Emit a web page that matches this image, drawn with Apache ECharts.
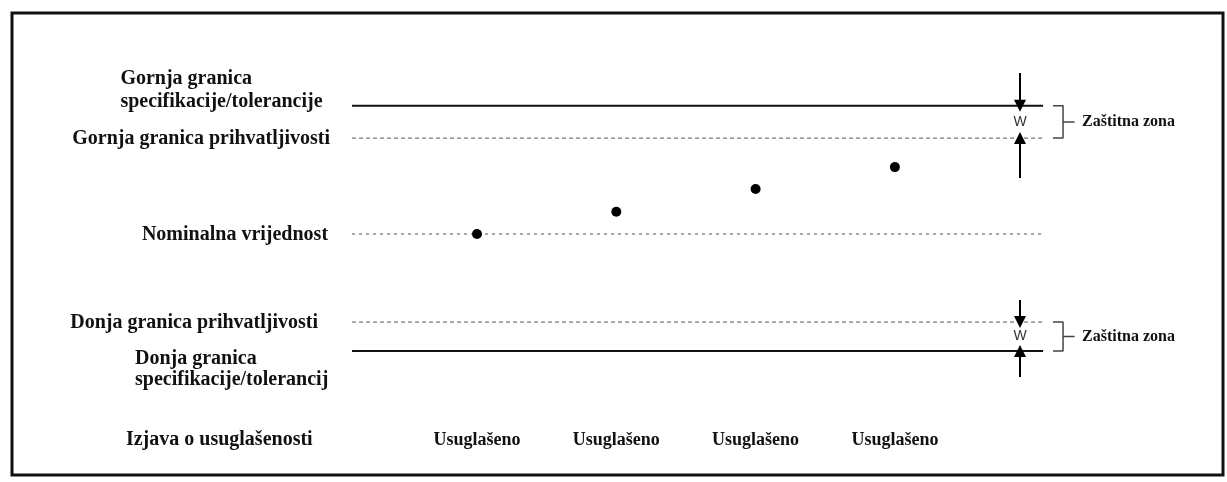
<!DOCTYPE html>
<html><head><meta charset="utf-8">
<script src="https://cdn.jsdelivr.net/npm/echarts@6/dist/echarts.min.js"></script>
<style>html,body{margin:0;padding:0;background:#fff}#c{width:1227px;height:482px}</style>
</head><body><div id="c"></div>
<script>
// ---- data ----
const levelNames = [
  'Gornja granica\nspecifikacije/tolerancije',
  'Gornja granica prihvatljivosti',
  'Nominalna vrijednost',
  'Donja granica prihvatljivosti',
  'Donja granica\nspecifikacije/tolerancij'
];
const levelValues = [5.75, 4.3, 0, -3.95, -5.25];
const measurementX = [1, 2, 3, 4];
const measurementValues = [0, 1.0, 2.02, 3.0];
const statementLabels = ['Usuglašeno', 'Usuglašeno', 'Usuglašeno', 'Usuglašeno'];
const rowTitle = 'Izjava o usuglašenosti';
const guardLabel = 'W';
const zoneLabel = 'Zaštitna zona';

// ---- layout / style config ----
const X0 = 0.103, X1 = 5.064, XA = 4.898, XB0 = 5.135, XB1 = 5.207, XT = 5.29, XZ = 5.343;
const ROW_Y = -9.24;
const FONT = 'Liberation Serif';
const TXT = '#111';
const labelOffsets = [[0, -15], [0, 1], [-2, 1], [-12, 1], [0, 18]];
const lineStyles = [
  {color: '#111', width: 2, type: 'solid'},
  {color: '#555', width: 1, type: [4, 3]},
  {color: '#a8a8a8', width: 2, type: [3, 4]},
  {color: '#555', width: 1, type: [4, 3]},
  {color: '#111', width: 2, type: 'solid'}
];

const series = [];
levelValues.forEach((v, i) => {
  series.push({
    type: 'line', silent: true, symbol: 'none', animation: false,
    data: [[X0, v], [X1, v]], lineStyle: lineStyles[i], z: 2
  });
});

// level labels
series.push({
  type: 'scatter', silent: true, animation: false, symbolSize: 0, clip: false,
  itemStyle: {opacity: 1},
  data: levelNames.map((n, i) => {
    const multi = n.indexOf('\n') >= 0;
    const up = i < 2;
    return {
      value: [multi ? (up ? -1.56 : -1.455) : -0.055, levelValues[i]],
      label: {
        show: true, formatter: n, position: [0, 0],
        align: multi ? 'left' : 'right', verticalAlign: 'middle',
        offset: labelOffsets[i],
        lineHeight: up ? 23 : 21
      }
    };
  }),
  label: {fontFamily: FONT, fontWeight: 'bold', fontSize: 20, color: TXT}
});

// measurements
series.push({
  type: 'scatter', silent: true, animation: false, symbolSize: 10,
  itemStyle: {color: '#000', opacity: 1}, z: 5,
  data: measurementX.map((x, i) => [x, measurementValues[i]])
});

// statements row
series.push({
  type: 'scatter', silent: true, animation: false, symbolSize: 0, clip: false,
  itemStyle: {opacity: 1},
  data: statementLabels.map((s, i) => ({
    value: [measurementX[i], ROW_Y],
    label: {show: true, formatter: s, position: [0, 0], align: 'center', verticalAlign: 'middle', fontSize: 18}
  })).concat([{
    value: [-0.18, ROW_Y],
    label: {show: true, formatter: rowTitle, position: [0, 0], align: 'right', verticalAlign: 'middle', fontSize: 20}
  }]),
  label: {fontFamily: FONT, fontWeight: 'bold', color: TXT}
});

// guard bands: upper (levels 0,1) and lower (levels 3,4)
const bands = [[0, 1, 1.47, 1.79], [3, 4, 0.99, 1.16]];
const arrowData = [];
bands.forEach(([a, b, la, lb]) => {
  const hi = Math.max(levelValues[a], levelValues[b]);
  const lo = Math.min(levelValues[a], levelValues[b]);
  arrowData.push({coords: [[XA, hi + la], [XA, hi]]});
  arrowData.push({coords: [[XA, lo - lb], [XA, lo]]});
  series.push({
    type: 'line', silent: true, symbol: 'none', animation: false,
    data: [[XB0, hi], [XB1, hi], [XB1, lo], [XB0, lo]],
    lineStyle: {color: '#444', width: 1.5}
  });
  series.push({
    type: 'line', silent: true, symbol: 'none', animation: false,
    data: [[XB1, (hi + lo) / 2], [XT, (hi + lo) / 2]],
    lineStyle: {color: '#444', width: 1.5}
  });
  series.push({
    type: 'scatter', silent: true, animation: false, symbolSize: 0, clip: false,
    itemStyle: {opacity: 1},
    data: [
      {value: [XA, (hi + lo) / 2], label: {show: true, formatter: guardLabel, position: [0, 0], align: 'center', verticalAlign: 'middle',
        fontFamily: 'Liberation Sans', fontSize: 14, color: '#333'}},
      {value: [XZ, (hi + lo) / 2], label: {show: true, formatter: zoneLabel, position: [0, 0], align: 'left', verticalAlign: 'middle',
        fontFamily: FONT, fontWeight: 'bold', fontSize: 16, color: TXT}}
    ]
  });
});
series.push({
  type: 'lines', coordinateSystem: 'cartesian2d', silent: true, animation: false,
  symbol: ['none', 'triangle'], symbolSize: [10, 12],
  lineStyle: {color: '#000', width: 2, opacity: 1},
  data: arrowData, z: 6
});

const chart = echarts.init(document.getElementById('c'), null, {renderer: 'canvas'});
chart.setOption({
  animation: false,
  backgroundColor: '#fff',
  grid: {left: 59.1, right: 53.5, top: 11, bottom: 25},
  xAxis: {type: 'value', min: -2, max: 6, show: false},
  yAxis: {type: 'value', min: -10, max: 10, show: false},
  graphic: [{
    type: 'rect', shape: {x: 12, y: 13, width: 1211, height: 462},
    style: {fill: 'none', stroke: '#111', lineWidth: 3}, silent: true
  }],
  series: series
});
</script>
</body></html>
